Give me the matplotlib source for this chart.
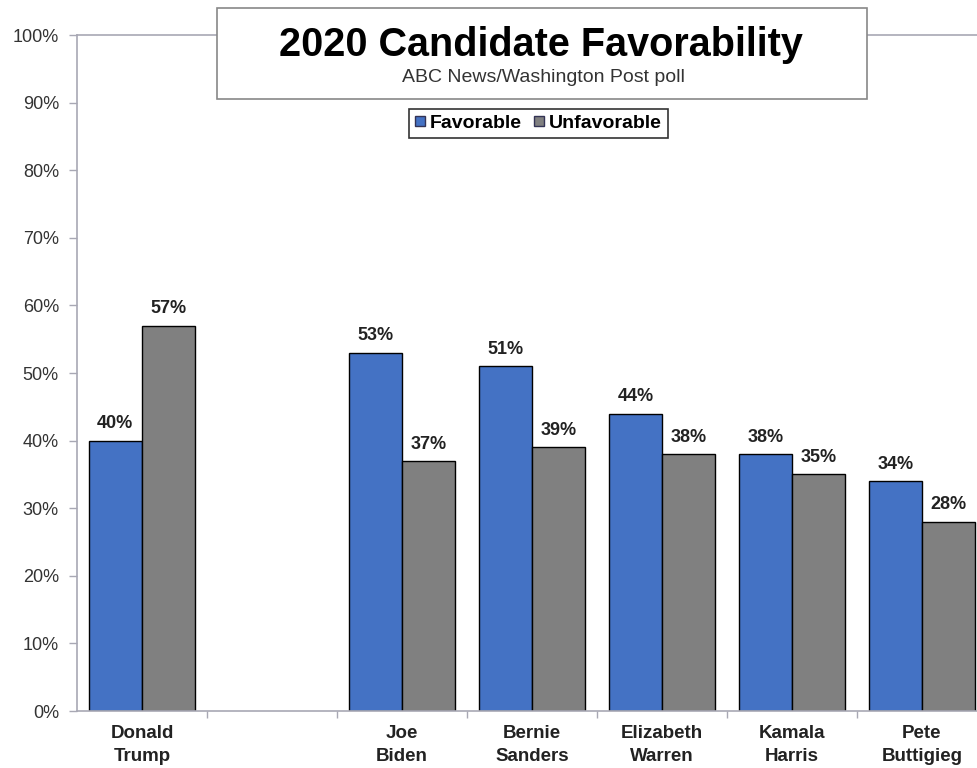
import matplotlib
matplotlib.use("Agg")
import matplotlib.pyplot as plt
import numpy as np
from matplotlib.patches import Rectangle
from matplotlib.ticker import FixedLocator, NullFormatter, FuncFormatter

plt.rcParams['font.family'] = ['Liberation Sans', 'DejaVu Sans']

# data (blank slot between Trump and the Democrats)
candidates = ["Donald\nTrump", "", "Joe\nBiden", "Bernie\nSanders",
              "Elizabeth\nWarren", "Kamala\nHarris", "Pete\nButtigieg"]
favorable = [40, np.nan, 53, 51, 44, 38, 34]
unfavorable = [57, np.nan, 37, 39, 38, 35, 28]

blue = '#4472C4'
grey = '#808080'
axis_col = '#A8A8B4'

fig = plt.figure(figsize=(9.77, 7.68), dpi=100)
ax = fig.add_axes([0.0788, 0.0742, 0.9314, 0.8802])

x = np.arange(len(candidates))
w = 0.41
b1 = ax.bar(x - w/2, favorable, w, color=blue, edgecolor='black', linewidth=1, label='Favorable', zorder=2)
b2 = ax.bar(x + w/2, unfavorable, w, color=grey, edgecolor='black', linewidth=1, label='Unfavorable', zorder=2)

for bars, vals in [(b1, favorable), (b2, unfavorable)]:
    for r, v in zip(bars, vals):
        if np.isnan(v):
            continue
        ax.annotate(f"{v:.0f}%", (r.get_x() + r.get_width()/2, v),
                    xytext=(0, 6), textcoords='offset points',
                    ha='center', va='bottom', fontsize=13, fontweight='bold', color='#222222')

ax.set_xlim(-0.5, len(candidates) - 0.5)
ax.set_ylim(0, 100)
ax.set_yticks(np.arange(0, 101, 10))
ax.yaxis.set_major_formatter(FuncFormatter(lambda v, p: f"{v:.0f}%"))
ax.tick_params(axis='y', direction='out', length=6, width=1, color=axis_col,
               labelsize=13, labelcolor='#333333', pad=7)

# category boundaries as tick marks, names on minor ticks at centres
ax.xaxis.set_major_locator(FixedLocator(x[:-1] + 0.5))
ax.xaxis.set_major_formatter(NullFormatter())
ax.xaxis.set_minor_locator(FixedLocator(x))
ax.set_xticklabels(candidates, minor=True, fontsize=13.5, fontweight='bold',
                   color='#222222', linespacing=1.45)
ax.tick_params(axis='x', which='major', direction='out', length=5, width=1, color=axis_col)
ax.tick_params(axis='x', which='minor', length=0, pad=10)

for s in ['left', 'bottom', 'top']:
    ax.spines[s].set_color(axis_col)
    ax.spines[s].set_linewidth(1.2)
ax.spines['right'].set_visible(False)

# title box
fig.patches.append(Rectangle((0.222, 0.871), 0.665, 0.1185, transform=fig.transFigure,
                             facecolor='white', edgecolor='#888888', linewidth=1.2, zorder=5))
fig.text(0.554, 0.941, "2020 Candidate Favorability", ha='center', va='center',
         fontsize=28.5, fontweight='bold', color='black', zorder=6)
fig.text(0.556, 0.899, "ABC News/Washington Post poll", ha='center', va='center',
         fontsize=14, color='#333333', zorder=6)

leg = fig.legend(handles=[b1, b2], loc='center', bbox_to_anchor=(0.551, 0.839), ncol=2,
                 frameon=True, fancybox=False, edgecolor='black', fontsize=14,
                 handlelength=0.55, handleheight=0.4, handletextpad=0.25,
                 columnspacing=0.6, borderpad=0.3, borderaxespad=0)
leg.get_frame().set_linewidth(1.2)
for t in leg.get_texts():
    t.set_fontweight('bold')
for h in leg.legend_handles:
    h.set_edgecolor('#333355')

fig.savefig("out.png", dpi=100)
